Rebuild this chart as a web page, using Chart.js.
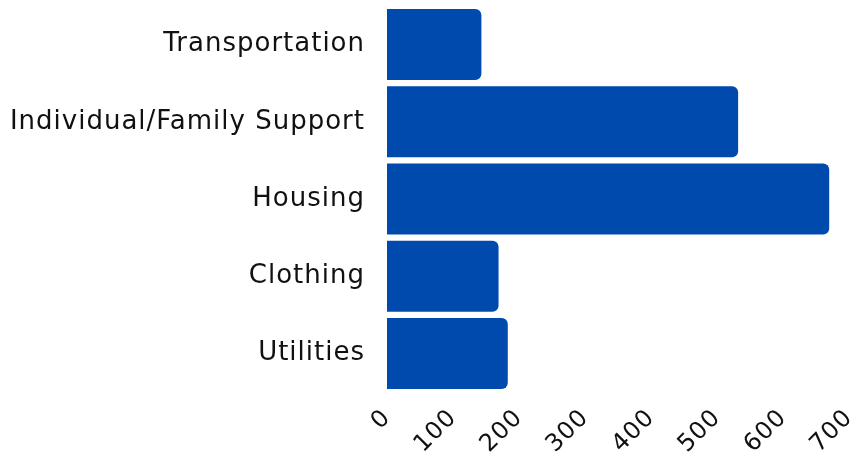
<!DOCTYPE html>
<html>
<head>
<meta charset="utf-8">
<script src="https://cdn.jsdelivr.net/npm/chart.js@4.4.0/dist/chart.umd.min.js"></script>
<style>
  html, body { margin: 0; padding: 0; background: #fff; }
  #wrap { width: 861px; height: 458px; }
</style>
</head>
<body>
<div id="wrap"><canvas id="barChart"></canvas></div>
<script>
// Data
const categories = ['Transportation', 'Individual/Family Support', 'Housing', 'Clothing', 'Utilities'];
const amounts = [143, 532, 670, 169, 183];
const xTicks = [0, 100, 200, 300, 400, 500, 600, 700];

const ctx = document.getElementById('barChart').getContext('2d');

// the original font is wider, so open the letters up a little
const wideText = {
  id: 'wideText',
  beforeUpdate(chart) { chart.ctx.letterSpacing = '1px'; },
  beforeDraw(chart) { chart.ctx.letterSpacing = '1px'; }
};

const barChart = new Chart(ctx, {
  type: 'bar',
  data: {
    labels: categories,
    datasets: [{
      data: amounts,
      backgroundColor: '#004aad',
      borderRadius: 6,
      borderSkipped: 'start',
      barPercentage: 0.92,
      categoryPercentage: 1.0
    }]
  },
  options: {
    indexAxis: 'y',
    responsive: true,
    maintainAspectRatio: false,
    animation: false,
    layout: {
      padding: {top: 6, right: 12, left: 8, bottom: 0}
    },
    plugins: {
      legend: {display: false},
      tooltip: {enabled: false}
    },
    scales: {
      x: {
        min: 0,
        max: 700,
        afterBuildTicks(scale) {
          scale.ticks = xTicks.map(v => ({value: v}));
        },
        afterFit(scale) {
          // keep the plot wide; rotated labels may run into the margin
          scale.paddingLeft = 0;
          scale.paddingRight = 0;
          scale.height = 66;
        },
        grid: {display: false},
        border: {display: false},
        ticks: {
          minRotation: 45,
          maxRotation: 45,
          padding: 4,
          color: '#111',
          font: {family: 'DejaVu Sans', size: 24}
        }
      },
      y: {
        grid: {display: false},
        border: {display: false},
        afterFit(scale) {
          scale.width = 379;
          scale.paddingTop = 0;
          scale.paddingBottom = 0;
        },
        ticks: {
          color: '#111',
          padding: 14,
          font: {family: 'DejaVu Sans', size: 26}
        }
      }
    }
  },
  plugins: [wideText]
});
</script>
</body>
</html>
